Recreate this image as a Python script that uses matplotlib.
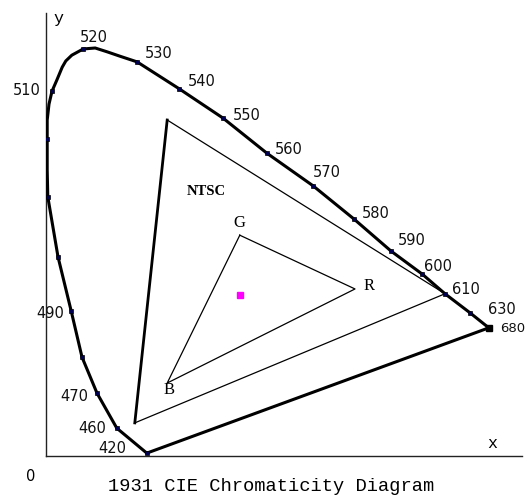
import matplotlib.pyplot as plt

# spectral locus, going from 420 nm up the left side
# and round to 680 nm (0 = point on the curve without a dot)
locus_nm = [420, 460, 470, 480, 490, 495, 500, 0, 505, 0, 0, 510, 0, 0, 0, 0, 520, 0, 0, 0,
            530, 540, 550, 560, 570, 580, 590, 600, 610, 630, 680]
locus_x = [0.168, 0.118, 0.085, 0.060, 0.042, 0.020, 0.003, 0.002, 0.002, 0.002, 0.005,
           0.010, 0.018, 0.027, 0.033, 0.043, 0.062, 0.082, 0.102, 0.123,
           0.152, 0.222, 0.295, 0.368, 0.445, 0.513, 0.575, 0.627, 0.665, 0.707, 0.738]
locus_y = [0.006, 0.058, 0.131, 0.206, 0.302, 0.415, 0.540, 0.596, 0.660, 0.700, 0.733,
           0.760, 0.783, 0.810, 0.823, 0.835, 0.848, 0.850, 0.842, 0.833,
           0.821, 0.765, 0.704, 0.631, 0.563, 0.494, 0.427, 0.379, 0.338, 0.298, 0.267]
labelled_nm = [420, 460, 470, 490, 510, 520, 530, 540, 550, 560, 570, 580,
               590, 600, 610, 630, 680]

# NTSC primaries (G, R, B)
ntsc_x = [0.202, 0.665, 0.148]
ntsc_y = [0.700, 0.338, 0.069]

# device gamut (G, R, B) and its white point
gamut_names = ['G', 'R', 'B']
gamut_x = [0.323, 0.515, 0.202]
gamut_y = [0.460, 0.348, 0.152]
white_x = [0.323]
white_y = [0.335]

W, H = 530, 498
fig = plt.figure(figsize=(W / 100, H / 100), dpi=100)
ax = fig.add_axes([46 / W, 42 / H, 476 / W, 443 / H])
ax.set_xlim(0, 476 / 600)
ax.set_ylim(0, 443 / 480)
ax.set_xticks([])
ax.set_yticks([])
for s in ['top', 'right']:
    ax.spines[s].set_visible(False)
for s in ['left', 'bottom']:
    ax.spines[s].set_color('#222222')
    ax.spines[s].set_linewidth(1.0)

# locus, closed by the purple line back to 420
ax.plot(locus_x + [locus_x[0]], locus_y + [locus_y[0]], color='black', lw=2.2,
        solid_joinstyle='round', zorder=3)
dots = [i for i, nm in enumerate(locus_nm) if nm > 0]
ax.plot([locus_x[i] for i in dots], [locus_y[i] for i in dots], 's', ms=3,
        color='#000050', mec='black', mew=0.5, zorder=4)
ax.plot([locus_x[-1]], [locus_y[-1]], 's', ms=4, color='black', zorder=4)

# label offsets in pixels from each dot
offsets = {420: (-34, 5), 460: (-25, 0), 470: (-23, -3), 490: (-21, -2),
           510: (-25, 1), 520: (11, 11), 530: (21, 8), 540: (23, 7),
           550: (24, 3), 560: (22, 4), 570: (14, 13), 580: (22, 5),
           590: (21, 11), 600: (16, 8), 610: (21, 4), 630: (32, 3), 680: (24, -1)}
for i, nm in enumerate(locus_nm):
    if nm in labelled_nm:
        fs = 9.5 if nm == 680 else 10.5
        ax.annotate(str(nm), (locus_x[i], locus_y[i]), xytext=offsets[nm],
                    textcoords='offset pixels', ha='center', va='center',
                    fontsize=fs, family='DejaVu Sans', color='#111111',
                    annotation_clip=False)

# NTSC triangle: thick G-B side, thin others
ax.plot([ntsc_x[0], ntsc_x[2]], [ntsc_y[0], ntsc_y[2]], color='black', lw=2.0, zorder=2)
ax.plot([ntsc_x[0], ntsc_x[1], ntsc_x[2]], [ntsc_y[0], ntsc_y[1], ntsc_y[2]],
        color='black', lw=0.9, zorder=2)
ax.text(0.267, 0.552, 'NTSC', fontsize=10.5, family='Liberation Serif',
        weight='bold', ha='center', va='center')

# device gamut
ax.plot(gamut_x + [gamut_x[0]], gamut_y + [gamut_y[0]], color='black', lw=0.9, zorder=2)
gamut_offsets = {'G': (0, 12), 'R': (14, 3), 'B': (2, -7)}
for name, gx, gy in zip(gamut_names, gamut_x, gamut_y):
    ax.annotate(name, (gx, gy), xytext=gamut_offsets[name], textcoords='offset pixels',
                ha='center', va='center', fontsize=12, family='Liberation Serif')
ax.plot(white_x, white_y, 's', ms=4, color='#ff00ff', mec='#ff00ff', zorder=4)

# axis names and title
fig.text(58 / W, 1 - 19 / H, 'y', fontsize=12, family='Liberation Mono',
         ha='center', va='center')
fig.text(492 / W, 1 - 443 / H, 'x', fontsize=12, family='Liberation Mono',
         ha='center', va='center')
fig.text(31 / W, 1 - 476 / H, '0', fontsize=10.5, family='DejaVu Sans',
         ha='center', va='center')
fig.text(271 / W, 1 - 486 / H, '1931 CIE Chromaticity Diagram', fontsize=13.5,
         family='Liberation Mono', ha='center', va='center')

fig.savefig('out.png', dpi=100)
